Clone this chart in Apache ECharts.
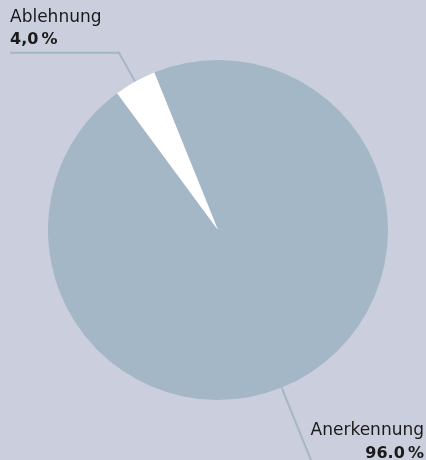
<!DOCTYPE html>
<html>
<head>
<meta charset="utf-8">
<script src="https://cdn.jsdelivr.net/npm/echarts@6/dist/echarts.min.js"></script>
<style>
  html, body { margin: 0; padding: 0; background: #cbcedc; }
  #chart { width: 426px; height: 460px; }
</style>
</head>
<body>
<div id="chart"></div>
<script>
var categories = ['Anerkennung', 'Ablehnung'];
var values = [96, 4];
var valueLabels = ['96.0\u2009%', '4,0\u2009%'];

var cx = 218, cy = 230, r = 170;

var chart = echarts.init(document.getElementById('chart'));

chart.setOption({
  backgroundColor: '#cbcedc',
  animation: false,
  series: [{
    type: 'pie',
    center: [cx, cy],
    radius: r,
    startAngle: 112,
    silent: true,
    data: categories.map(function(name, i) {
      return { name: name, value: values[i] };
    }),
    color: ['#a4b7c7', '#ffffff'],
    label: {
      show: true,
      position: 'outside',
      overflow: 'none',
      fontFamily: 'DejaVu Sans',
      color: '#1a1a1a',
      formatter: function(p) {
        return '{n|' + p.name + '}\n{v|' + valueLabels[p.dataIndex] + '}';
      },
      rich: {
        n: { fontSize: 17, lineHeight: 23, fontFamily: 'DejaVu Sans', color: '#1a1a1a' },
        v: { fontSize: 16, lineHeight: 23, fontWeight: 'bold', fontFamily: 'DejaVu Sans', color: '#1a1a1a' }
      }
    },
    labelLine: {
      show: true,
      length: 33,
      length2: 0,
      lineStyle: { color: '#a4b7c7', width: 2 }
    },
    labelLayout: function(params) {
      if (params.dataIndex === 1) {
        var p0 = params.labelLinePoints[0];
        var p1 = params.labelLinePoints[1];
        return {
          x: 10, y: p1[1] - 1,
          align: 'left', verticalAlign: 'bottom',
          labelLinePoints: [p0, p1, [10, p1[1]]]
        };
      }
      var a = -68 * Math.PI / 180;
      return {
        x: 424, y: 419,
        align: 'right', verticalAlign: 'top',
        labelLinePoints: [
          [cx + r * Math.cos(a), cy - r * Math.sin(a)],
          [cx + 250 * Math.cos(a), cy - 250 * Math.sin(a)]
        ]
      };
    }
  }]
});
</script>
</body>
</html>
